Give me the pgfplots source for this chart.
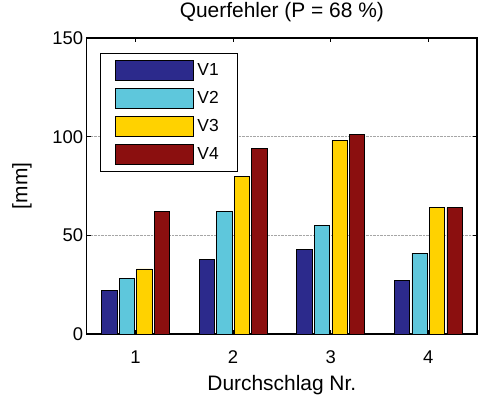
\documentclass[border=0pt]{standalone}
\usepackage{fontspec}
\setmainfont{Liberation Sans}
\usepackage{pgfplots}
\pgfplotsset{compat=1.18}
\definecolor{cV1}{RGB}{44,42,140}
\definecolor{cV2}{RGB}{94,199,220}
\definecolor{cV3}{RGB}{255,210,0}
\definecolor{cV4}{RGB}{139,15,15}
\pgfplotsset{mylegend/.style={legend image code/.code={\draw[##1,line width=0.6pt] (0pt,-10pt) rectangle (78pt,10pt);}}}
\begin{document}
\begin{tikzpicture}
\useasboundingbox (-86.7bp,-63bp) rectangle (396.3bp,334bp);
\begin{axis}[
  scale only axis,
  width=390.3bp, height=296bp,
  xmin=0.5, xmax=4.5, ymin=0, ymax=150,
  xtick={1,2,3,4}, ytick={0,50,100,150},
  ybar=2.3bp, bar width=0.156,
  axis line style={line width=1.2pt},
  tick style={line width=1pt, black},
  major tick length=4bp,
  tick align=inside,
  xtick pos=both, ytick pos=both,
  ymajorgrids, grid style={densely dotted, gray!70, line width=0.6pt},
  /pgf/number format/assume math mode=true,
  tick label style={font=\fontsize{18.5}{20}\selectfont},
  xticklabel style={anchor=base, yshift=-29bp},
  title={Querfehler (P = 68 \%)},
  title style={at={([yshift=14.7bp]rel axis cs:0.5,1)}, anchor=base, font=\fontsize{21}{23}\selectfont},
  xlabel={Durchschlag Nr.},
  xlabel style={at={([yshift=-56bp]rel axis cs:0.5,0)}, anchor=base, font=\fontsize{21}{23}\selectfont},
  ylabel={[mm]},
  ylabel style={at={([xshift=-64.7bp]rel axis cs:0,0.5)}, anchor=center, font=\fontsize{21}{23}\selectfont},
  legend style={at={(rel axis cs:0.034,0.949)}, anchor=north west, draw=black, line width=0.8pt,
    inner xsep=15pt, inner ysep=7pt, row sep=7.3pt,
    font=\fontsize{17.5}{19}\selectfont,
    nodes={inner sep=2pt, minimum width=29pt}},
  legend cell align=left,
]
\addplot[fill=cV1, draw=black, line width=0.5pt, mylegend] coordinates {(1,22) (2,38) (3,43) (4,27)};
\addplot[fill=cV2, draw=black, line width=0.5pt, mylegend] coordinates {(1,28) (2,62) (3,55) (4,41)};
\addplot[fill=cV3, draw=black, line width=0.5pt, mylegend] coordinates {(1,33) (2,80) (3,98) (4,64)};
\addplot[fill=cV4, draw=black, line width=0.5pt, mylegend] coordinates {(1,62) (2,94) (3,101) (4,64)};
\legend{V1,V2,V3,V4}
\end{axis}
\end{tikzpicture}
\end{document}
